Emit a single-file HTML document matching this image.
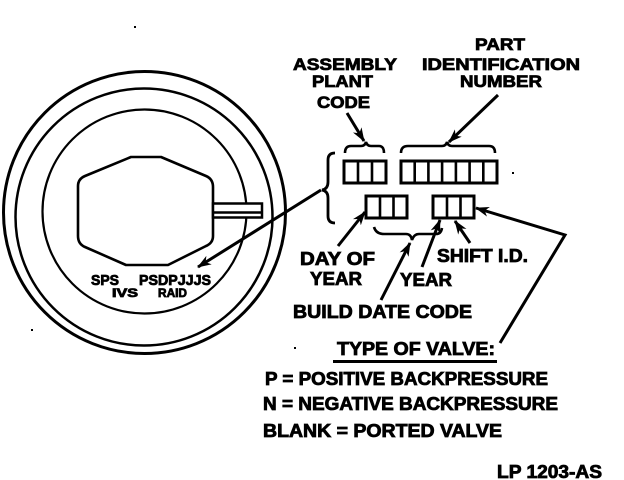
<!DOCTYPE html>
<html>
<head>
<meta charset="utf-8">
<style>
html,body{margin:0;padding:0;background:#fff;}
svg{display:block;}
text{font-family:"Liberation Sans",sans-serif;font-weight:bold;fill:#000;stroke:#000;stroke-width:0.8;}
</style>
</head>
<body>
<svg width="624" height="480" viewBox="0 0 624 480" xmlns="http://www.w3.org/2000/svg">
<defs>
<marker id="a" viewBox="0 0 14 10" refX="13" refY="5" markerWidth="14" markerHeight="10" orient="auto" markerUnits="userSpaceOnUse">
<path d="M0,0 L14,5 L0,10 L4,5 z" fill="#000"/>
</marker>
</defs>
<rect width="624" height="480" fill="#fff"/>

<!-- circles -->
<g fill="none" stroke="#000">
<circle cx="144.5" cy="212.5" r="141" stroke-width="3"/>
<circle cx="144" cy="217" r="128.5" stroke-width="2.5"/>
<circle cx="144.5" cy="211.5" r="102" stroke-width="2.2"/>
</g>

<!-- hexagon -->
<path d="M78,186 Q78,179 85,176 L131,157 L161,157 L206,176 Q213,179 213,187 L213,236 Q213,243 206,246 L168,265 L126,265 L85,247 Q78,244 78,236 Z" fill="#fff" stroke="#000" stroke-width="2.6" stroke-linejoin="round"/>
<!-- stem -->
<rect x="213" y="203.5" width="49" height="14" fill="#fff" stroke="#000" stroke-width="2.5"/>
<line x1="213" y1="212.5" x2="262" y2="212.5" stroke="#000" stroke-width="2.5"/>

<!-- blob text in circle -->
<g style="stroke-width:1.8">
<text x="91" y="285" font-size="15" textLength="28" lengthAdjust="spacingAndGlyphs">SPS</text>
<text x="139" y="285" font-size="15" textLength="72" lengthAdjust="spacingAndGlyphs">PSDPJJJS</text>
<text x="112" y="297" font-size="12" textLength="26" lengthAdjust="spacingAndGlyphs">IVS</text>
<text x="158" y="297" font-size="12" textLength="29" lengthAdjust="spacingAndGlyphs">RAID</text>
</g>

<!-- main arrow to circle -->
<line x1="321" y1="190" x2="198" y2="267" stroke="#000" stroke-width="3" marker-end="url(#a)"/>

<!-- big left brace -->
<path d="M335,153 Q328,153 328,160 L328,182 Q328,189 322,190 Q328,191 328,198 L328,216 Q328,223 335,223" fill="none" stroke="#000" stroke-width="2.8"/>

<!-- boxes -->
<g fill="#fff" stroke="#000" stroke-width="3">
<rect x="344" y="161" width="42" height="22"/>
<rect x="401" y="161" width="96" height="22"/>
<rect x="366" y="196" width="41" height="22"/>
<rect x="433" y="196" width="41" height="22"/>
</g>
<g stroke="#000" stroke-width="2.6">
<line x1="358" y1="161" x2="358" y2="183"/>
<line x1="372" y1="161" x2="372" y2="183"/>
<line x1="414.7" y1="161" x2="414.7" y2="183"/>
<line x1="428.4" y1="161" x2="428.4" y2="183"/>
<line x1="442.1" y1="161" x2="442.1" y2="183"/>
<line x1="455.9" y1="161" x2="455.9" y2="183"/>
<line x1="469.6" y1="161" x2="469.6" y2="183"/>
<line x1="483.3" y1="161" x2="483.3" y2="183"/>
<line x1="380" y1="196" x2="380" y2="218"/>
<line x1="393.5" y1="196" x2="393.5" y2="218"/>
<line x1="447" y1="196" x2="447" y2="218"/>
<line x1="460.5" y1="196" x2="460.5" y2="218"/>
</g>

<!-- small braces above -->
<g fill="none" stroke="#000" stroke-width="2.6">
<path d="M345,153 Q345,146 351,146 L361,146 Q365,146 366,142 Q367,146 371,146 L379,146 Q384,146 384,153"/>
<path d="M401,153 Q401,146 408,146 L442,146 Q446,146 447,142 Q448,146 452,146 L489,146 Q495,146 495,153"/>
<!-- build date brace -->
<path d="M374,227 Q376,234 384,234 L406,234 Q411,234 412,240 Q414,234 419,234 L436,234 Q441,234 442,228"/>
</g>

<!-- arrows -->
<g stroke="#000" stroke-width="3" fill="none" marker-end="url(#a)">
<line x1="347" y1="113" x2="364" y2="141"/>
<line x1="498" y1="95" x2="449" y2="142"/>
<line x1="338" y1="246" x2="365" y2="212"/>
<line x1="381" y1="300" x2="410" y2="243"/>
<line x1="422" y1="267" x2="440" y2="220"/>
<line x1="470" y1="243" x2="455" y2="221"/>
<polyline points="500,343 565,235 476,208"/>
</g>

<!-- labels -->
<text x="475" y="50" font-size="17" textLength="50" lengthAdjust="spacingAndGlyphs">PART</text>
<text x="422" y="70" font-size="17" textLength="158" lengthAdjust="spacingAndGlyphs">IDENTIFICATION</text>
<text x="460" y="87" font-size="17" textLength="82" lengthAdjust="spacingAndGlyphs">NUMBER</text>
<text x="293" y="70" font-size="17" textLength="104" lengthAdjust="spacingAndGlyphs">ASSEMBLY</text>
<text x="312" y="87" font-size="17" textLength="61" lengthAdjust="spacingAndGlyphs">PLANT</text>
<text x="317" y="108" font-size="17" textLength="53" lengthAdjust="spacingAndGlyphs">CODE</text>

<text x="300" y="265" font-size="18" textLength="75" lengthAdjust="spacingAndGlyphs">DAY OF</text>
<text x="310" y="285" font-size="18" textLength="52" lengthAdjust="spacingAndGlyphs">YEAR</text>
<text x="437" y="262" font-size="18" textLength="91" lengthAdjust="spacingAndGlyphs">SHIFT I.D.</text>
<text x="400" y="286" font-size="18" textLength="52" lengthAdjust="spacingAndGlyphs">YEAR</text>
<text x="293" y="318" font-size="18" textLength="179" lengthAdjust="spacingAndGlyphs">BUILD DATE CODE</text>
<text x="337" y="355" font-size="18" textLength="158" lengthAdjust="spacingAndGlyphs">TYPE OF VALVE:</text>
<rect x="333" y="360" width="164" height="3" fill="#000"/>
<text x="265" y="385" font-size="18" textLength="283" lengthAdjust="spacingAndGlyphs">P = POSITIVE BACKPRESSURE</text>
<text x="263" y="410" font-size="18" textLength="295" lengthAdjust="spacingAndGlyphs">N = NEGATIVE BACKPRESSURE</text>
<text x="263" y="437" font-size="18" textLength="239" lengthAdjust="spacingAndGlyphs">BLANK = PORTED VALVE</text>
<text x="497" y="478" font-size="18" textLength="105" lengthAdjust="spacingAndGlyphs">LP 1203-AS</text>

<!-- stray specks -->
<g fill="#000">
<rect x="512" y="172" width="2" height="2"/>
<rect x="134" y="26" width="2" height="2"/>
<rect x="294" y="347" width="2" height="2"/>
<rect x="31" y="329" width="2" height="2"/>
</g>
</svg>
</body>
</html>
